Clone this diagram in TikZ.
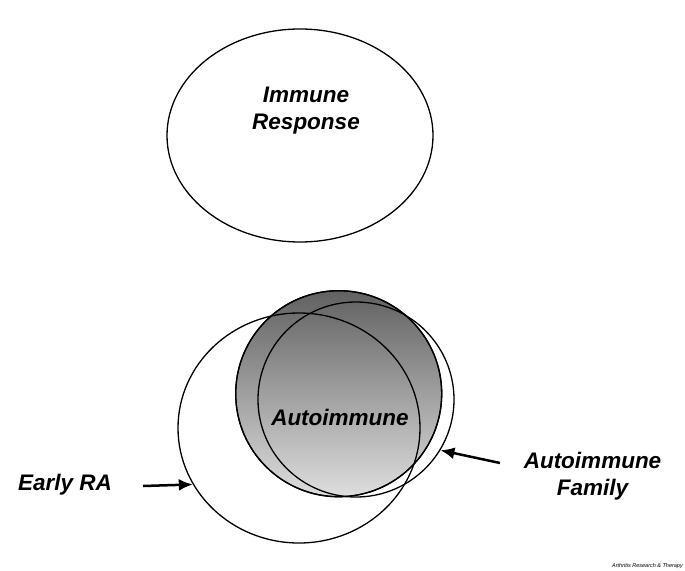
\documentclass[tikz,border=0pt]{standalone}
\usepackage{fontspec}
\setmainfont{Liberation Sans}
\usetikzlibrary{shapes.geometric,arrows.meta}
\definecolor{shadetop}{gray}{0.38}
\definecolor{shadebot}{gray}{0.87}
\begin{document}
\begin{tikzpicture}[x=1pt,y=-1pt,
  ring/.style={draw=black,line width=1.3pt,ellipse,inner sep=0pt},
  lbl/.style={font=\fontsize{22.5}{27}\selectfont\bfseries\itshape,align=center,inner sep=0pt},
  arr/.style={line width=2.5pt,-{Latex[length=14pt,width=12pt]}}]
\useasboundingbox[fill=white] (0,0) rectangle (685,570);
% Immune response
\node[ring,minimum width=266pt,minimum height=213pt] (immune) at (300,135.5) {};
\node[lbl] (immunelbl) at (306,110.5) {Immune\\Response};
% shaded autoimmune circle
\node[ellipse,inner sep=0pt,minimum width=206pt,minimum height=206pt,
      top color=shadetop,bottom color=shadebot,draw=black,line width=1.3pt] (auto) at (338.7,393.7) {};
% Early RA ellipse
\node[ring,minimum width=242pt,minimum height=230pt] (early) at (299,428) {};
% Autoimmune family circle
\node[ring,minimum width=196pt,minimum height=195pt] (family) at (356,399.5) {};
% redraw shaded circle outline on top
\draw[line width=1.3pt] (auto.center) ellipse (103pt and 103pt);
\node[lbl] (autolbl) at (340,417) {Autoimmune};
% labels
\node[lbl,anchor=west] (erlbl) at (18,485) {Early RA};
\node[lbl] (famlbl) at (592.5,476.5) {Autoimmune\\Family};
\coordinate (ertail) at (143,486);
\coordinate (famtail) at (500,463);
\draw[arr] (ertail) -- (early.208.5);
\draw[arr] (famtail) -- (family.-31);
\node[font=\fontsize{5.5}{6}\selectfont\itshape,anchor=east,inner sep=0pt] (credit) at (683,566) {Arthritis Research \& Therapy};
\end{tikzpicture}
\end{document}
